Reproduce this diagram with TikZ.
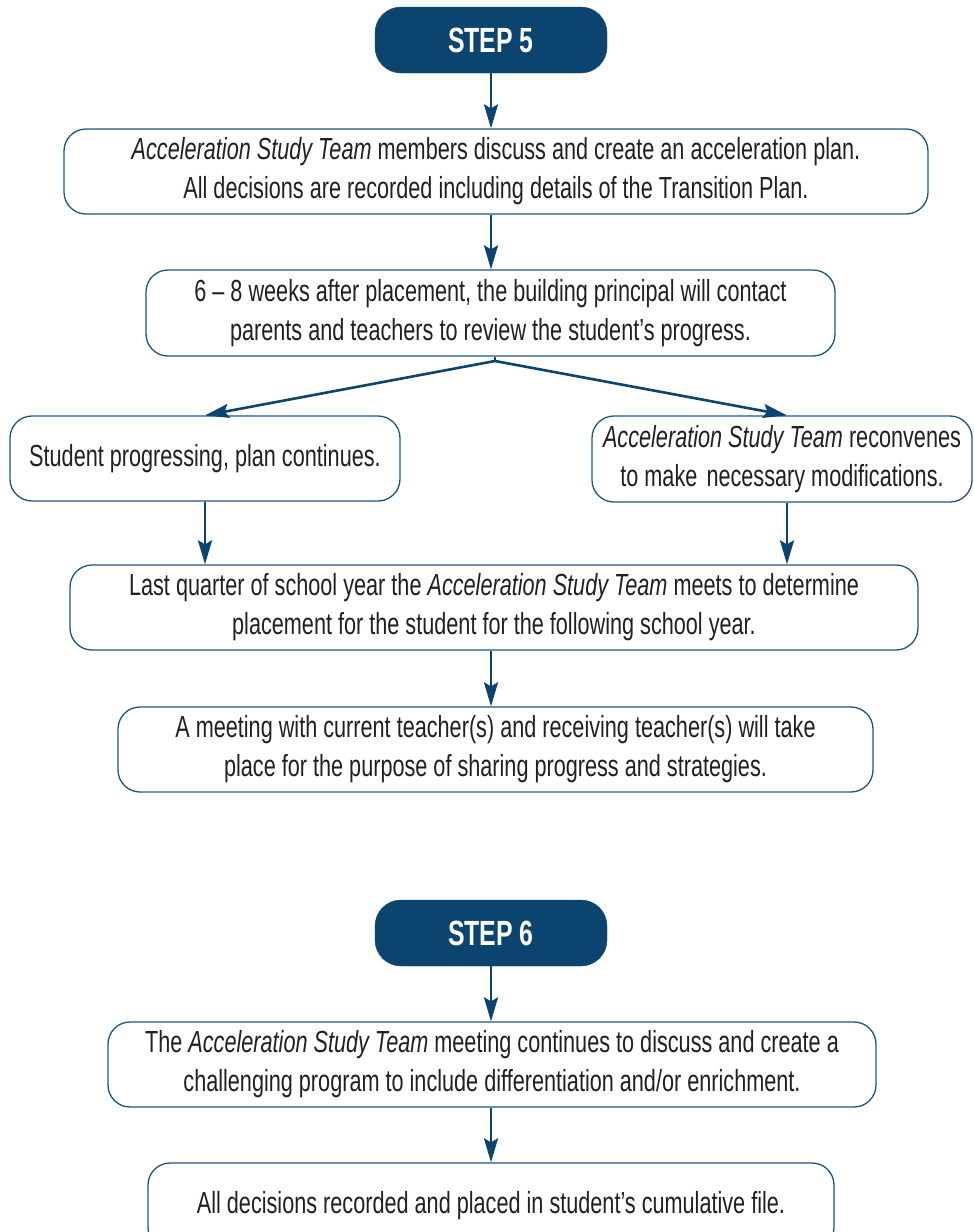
\documentclass[tikz,border=0pt]{standalone}
\usepackage{fontspec}
\setmainfont{Liberation Sans}[FakeStretch=0.71]
\usetikzlibrary{arrows.meta}
\definecolor{navy}{HTML}{0C4470}
\definecolor{edge}{HTML}{1D5481}
\definecolor{ink}{HTML}{231F20}
\tikzset{
  box/.style={draw=edge, line width=1.3pt, rounded corners=22pt, inner sep=0pt,
    align=center, text=ink, font=\fontsize{30.5}{39}\selectfont},
  stepbox/.style={fill=navy, draw=navy, rounded corners=26pt, inner sep=0pt,
    minimum width=232pt, minimum height=66pt, text=white,
    font=\fontsize{35}{40}\selectfont\bfseries},
  arr/.style={draw=navy, line width=2.6pt, -{Stealth[length=24pt,width=14pt,inset=4pt]}},
}
\begin{document}
\begin{tikzpicture}[x=1pt,y=-1pt]
\useasboundingbox (0,0) rectangle (974,1232);
\coordinate (ax) at (491,0);
\coordinate (lx) at (205,0);
\coordinate (rx) at (787,0);
\coordinate (apex) at (495,361);

\node[stepbox] (s5) at (491,40) {STEP 5};
\node[box, minimum width=864pt, minimum height=85pt] (b1) at (496,171.5)
  {\textit{Acceleration Study Team} members discuss and create an acceleration plan.\\
   All decisions are recorded including details of the Transition Plan.};
\node[box, minimum width=689pt, minimum height=86pt] (b2) at (490.5,313)
  {6 -- 8 weeks after placement, the building principal will contact\\
   parents and teachers to review the student's progress.};
\node[box, minimum width=390pt, minimum height=85pt] (bl) at (205,458.5)
  {Student progressing, plan continues.};
\node[box, minimum width=380pt, minimum height=86pt] (br) at (782,459)
  {\textit{Acceleration Study Team} reconvenes\\
   to make\hspace{0.3em}necessary modifications.};
\node[box, minimum width=848pt, minimum height=85pt] (b3) at (494,607.5)
  {Last quarter of school year the \textit{Acceleration Study Team} meets to determine\\
   placement for the student for the following school year.};
\node[box, minimum width=755pt, minimum height=85pt] (b4) at (495.5,749.5)
  {A meeting with current teacher(s) and receiving teacher(s) will take\\
   place for the purpose of sharing progress and strategies.};

\node[stepbox] (s6) at (491,933) {STEP 6};
\node[box, minimum width=768pt, minimum height=85pt] (b5) at (492,1064.5)
  {The \textit{Acceleration Study Team} meeting continues to discuss and create a\\
   challenging program to include differentiation and/or enrichment.};
\node[box, minimum width=686pt, minimum height=86pt] (b6) at (491,1206)
  {All decisions recorded and placed in student's cumulative file.};

\draw[arr] (s5.south -| ax) -- (b1.north -| ax);
\draw[arr] (b1.south -| ax) -- (b2.north -| ax);
\draw[draw=navy, line width=2.6pt] (b2.south -| apex) -- (apex);
\draw[arr] (apex) -- (bl.north -| lx);
\draw[arr] (apex) -- (br.north -| rx);
\draw[arr] (bl.south -| lx) -- (b3.north -| lx);
\draw[arr] (br.south -| rx) -- (b3.north -| rx);
\draw[arr] (b3.south -| ax) -- (b4.north -| ax);
\draw[arr] (s6.south -| ax) -- (b5.north -| ax);
\draw[arr] (b5.south -| ax) -- (b6.north -| ax);
\end{tikzpicture}
\end{document}
